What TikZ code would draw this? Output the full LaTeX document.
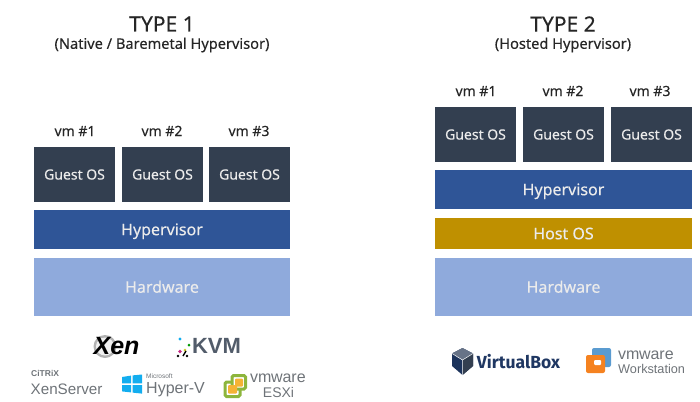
\documentclass[tikz,border=0pt]{standalone}
\usepackage{fontspec}
\setmainfont{Noto Sans}
\newfontfamily\medfont[FakeBold=0.25]{Noto Sans}
\newfontfamily\logofont{Liberation Sans}
\newfontfamily\vbfont{Fira Sans}
\definecolor{guest}{HTML}{333F50}
\definecolor{hyper}{HTML}{2F5597}
\definecolor{hostos}{HTML}{BF9000}
\definecolor{hardw}{HTML}{8FAADC}
\definecolor{ink}{HTML}{262626}
\definecolor{logogray}{HTML}{6E7378}
\definecolor{winblue}{HTML}{12ADEF}
\definecolor{esxgreen}{HTML}{8DB53C}
\definecolor{esxorange}{HTML}{F5B335}
\definecolor{wsorange}{HTML}{F58220}
\definecolor{wsblue}{HTML}{5A9BD0}
\tikzset{
  layerbox/.style={draw=none,minimum height=#1,inner sep=0pt,text=white!92!black,text height=11.4pt,text depth=0pt,font=\medfont\fontsize{16}{18}\selectfont},
  guestbox/.style={layerbox=55pt,fill=guest,minimum width=81pt,text height=10pt,font=\medfont\fontsize{14}{16}\selectfont},
  vmlabel/.style={text=ink,text height=10pt,text depth=0pt,font=\medfont\fontsize{14}{16}\selectfont,inner sep=0pt},
  bigtitle/.style={text=ink,font=\medfont\fontsize{21}{24}\selectfont,inner sep=0pt},
  subtitle/.style={text=ink,font=\medfont\fontsize{14.6}{16}\selectfont,inner sep=0pt},
  logotext/.style={text=logogray,inner sep=0pt,font=\logofont\fontsize{#1}{#1}\selectfont}
}
\begin{document}
\begin{tikzpicture}[x=1pt,y=-1pt]
\useasboundingbox (0,0) rectangle (700,401);
% Type 1
\node[bigtitle] (t1) at (162,24) {TYPE 1};
\node[subtitle] (s1) at (162,45) {(Native / Baremetal Hypervisor)};
\node[vmlabel] (v11) at (75,131) {vm \#1};
\node[vmlabel] (v12) at (162,131) {vm \#2};
\node[vmlabel] (v13) at (249,131) {vm \#3};
\node[guestbox] (g11) at (74.5,174.5) {Guest OS};
\node[guestbox] (g12) at (162.5,174.5) {Guest OS};
\node[guestbox] (g13) at (249.5,174.5) {Guest OS};
\node[layerbox=39pt,fill=hyper,minimum width=256pt] (h1) at (162,229.5) {Hypervisor};
\node[layerbox=58pt,fill=hardw,minimum width=256pt] (w1) at (162,287) {Hardware};
% Type 2
\node[bigtitle] (t2) at (563,24) {TYPE 2};
\node[subtitle] (s2) at (563,45) {(Hosted Hypervisor)};
\node[vmlabel] (v21) at (476,91) {vm \#1};
\node[vmlabel] (v22) at (563,91) {vm \#2};
\node[vmlabel] (v23) at (650,91) {vm \#3};
\node[guestbox] (g21) at (475.5,134.5) {Guest OS};
\node[guestbox] (g22) at (563.5,134.5) {Guest OS};
\node[guestbox] (g23) at (651.5,134.5) {Guest OS};
\node[layerbox=39pt,fill=hyper,minimum width=257pt] (h2) at (563.5,189.5) {Hypervisor};
\node[layerbox=31pt,fill=hostos,minimum width=257pt] (o2) at (563.5,233.5) {Host OS};
\node[layerbox=58pt,fill=hardw,minimum width=257pt] (w2) at (563.5,287) {Hardware};
% Xen logo
\fill[gray!60] (105,346.5) circle (11.5);
\fill[gray!12] (105,346.5) circle (9);
\node[inner sep=0pt,text=black,font=\logofont\fontsize{25}{25}\bfseries\itshape\selectfont] (xen) at (116.5,346.5) {Xen};
% KVM logo
\fill[winblue] (180,339) circle (1.7);
\fill[green!60!black] (189,345) circle (1.5);
\fill[magenta!80!black] (180,351.5) circle (1.8);
\fill[yellow!80!black] (185,350) circle (1.5);
\fill[black] (178,356) circle (1.4) (187,356) circle (1.4);
\draw[black,line width=1.4pt] (183,356) -- (186,351);
\node[inner sep=0pt,text=guest!85!white,font=\logofont\fontsize{22}{22}\bfseries\selectfont] (kvm) at (216.5,346) {KVM};
% Citrix XenServer
\node[inner sep=0pt,anchor=west,text=logogray,font=\logofont\fontsize{8.5}{9}\bfseries\selectfont] (ctx) at (31,373) {CiTRiX};
\node[logotext=15.2,anchor=west] (xs) at (30.5,389) {XenServer};
% Hyper-V
\fill[winblue] (122,377) -- (131,375.6) -- (131,383.4) -- (122,383.4) -- cycle
  (132.5,375.4) -- (142,374.5) -- (142,383.4) -- (132.5,383.4) -- cycle
  (122,385) -- (131,385) -- (131,392.4) -- (122,391.4) -- cycle
  (132.5,385) -- (142,385) -- (142,393.6) -- (132.5,392.6) -- cycle;
\node[logotext=6.5,anchor=west] (ms) at (146,376.5) {Microsoft};
\node[logotext=16,anchor=west] (hv) at (146,389.5) {Hyper-V};
% ESXi
\draw[line width=3pt,draw=esxgreen,rounded corners=1.5pt,fill=white] (225,382) rectangle (240,396.5);
\draw[line width=3pt,draw=esxgreen,rounded corners=1.5pt,fill=white] (232,375.5) rectangle (245.5,389);
\fill[esxorange,rounded corners=1pt] (228,385) rectangle (237,393.5);
\fill[esxorange,rounded corners=1pt] (235,378.5) rectangle (243,386.5);
\node[logotext=16,anchor=west] (vm1) at (250,378) {vm\kern-.5pt ware};
\node[logotext=14,anchor=center] (esx) at (278.5,392) {ESXi};
% VirtualBox logo
\fill[hyper!60!black] (462.5,348) -- (473,353.5) -- (473,366) -- (462.5,375) -- (452,366) -- (452,353.5) -- cycle;
\fill[gray!70!hyper] (462.5,348) -- (473,353.5) -- (462.5,360) -- (452,353.5) -- cycle;
\fill[guest] (462.5,360) -- (473,353.5) -- (473,366) -- (462.5,375) -- cycle;
\draw[white,line width=.5pt] (462.5,360) -- (462.5,375) (452,353.5) -- (462.5,360) -- (473,353.5);
\node[inner sep=0pt,text=hyper!65!black,font=\vbfont\fontsize{17.5}{20}\bfseries\selectfont] (vb) at (518.5,362) {VirtualBox};
% Workstation logo
\fill[wsblue,rounded corners=2pt] (592,348) rectangle (611,367);
\fill[wsorange,rounded corners=2pt] (586,355) rectangle (605,373);
\fill[white,rounded corners=1pt] (594,360) rectangle (601,365);
\node[logotext=16,anchor=west] (vm2) at (618,355) {vm\kern-.5pt ware};
\node[logotext=12.7,anchor=west] (ws) at (618,368.5) {Workstation};
\end{tikzpicture}
\end{document}
